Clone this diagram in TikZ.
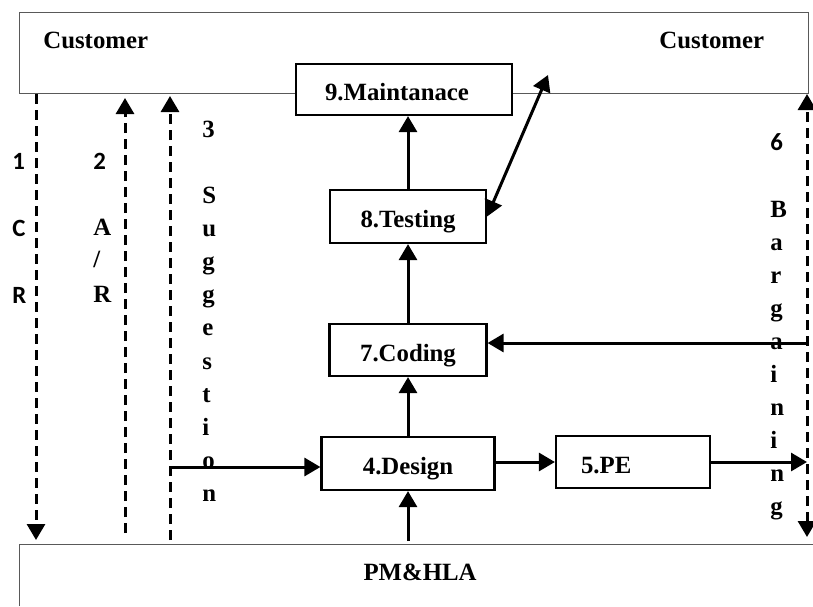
\documentclass[tikz,border=0pt]{standalone}
\usepackage{fontspec}
\setmainfont{Liberation Serif}
\newfontfamily\calfont{Carlito}
\usetikzlibrary{arrows.meta}

\begin{document}
\begin{tikzpicture}[x=0.5pt,y=-0.5pt,
	>={Triangle[length=8pt,width=9pt]},
	frame/.style={draw=black!65,line width=0.5pt},
	box/.style={draw,line width=1.1pt,fill=white,font=\fontsize{12.4}{14}\selectfont\bfseries,text height=11pt,text depth=0pt,inner sep=0pt},
	flow/.style={line width=1.5pt,->},
	dashflow/.style={line width=1.5pt,dash pattern=on 5pt off 3pt,->},
	lbl/.style={font=\fontsize{12.4}{14}\selectfont\bfseries,anchor=base west,inner sep=0pt},
	slbl/.style={lbl,font=\fontsize{12.4}{14}\selectfont\calfont\bfseries}]
\useasboundingbox (0,0) rectangle (813,606);

% customer and PM sides
\node[frame,inner sep=0pt,minimum width=394.5pt,minimum height=40.5pt,anchor=north west] (cust) at (19,12) {};
\node[lbl] (custl) at (43,48) {Customer};
\node[lbl] (custr) at (659,48) {Customer};
\coordinate (pm) at (19,544);
\draw[frame] (19,606) -- (pm) -- (813,544);
\node[lbl,anchor=base] (pmhla) at (420,580) {PM\&HLA};

% phases
\node[box,minimum height=25.5pt,text width=79pt,inner xsep=14.5pt,align=left] (maint) at (404,89.5) {9.Maintanace};
\node[box,minimum width=78pt,minimum height=26.5pt] (test) at (408,216.5) {8.Testing};
\node[box,minimum width=78.5pt,minimum height=26pt] (code) at (408,350) {7.Coding};
\node[box,minimum width=86.5pt,minimum height=26.5pt] (design) at (408,463.5) {4.Design};
\node[box,minimum height=26pt,text width=52pt,inner xsep=12.5pt,align=left] (pe) at (633,462) {5.PE};

\coordinate (cr) at (36,540);
\coordinate (ar) at (125,533);
\coordinate (sg) at (170,540);
\coordinate (bg) at (807,537);
\coordinate (pmd) at (408,541);
\coordinate (custpt) at (548,75);
\coordinate (sgin) at ([yshift=-1.75pt]design.west);
\coordinate (bgin) at ([yshift=3.5pt]code.east);

% dashed channels
\draw[dashflow] (cust.south -| cr) -- (cr);
\draw[dashflow,shorten >=2pt] (ar) -- (ar |- cust.south);
\draw[dashflow,shorten >=1pt] (sg) -- (sg |- cust.south);
\draw[dashflow,<->] (bg) -- (bg |- cust.south);

\draw[flow] (pmd) -- (design.south);
\draw[flow] (design.north) -- (code.south);
\draw[flow] (code.north) -- (test.south);
\draw[flow] (test.north) -- (test.north |- maint.south);
\draw[flow,<->] (test.east) -- (custpt);
\draw[flow] (sgin -| sg) -- (sgin);
\draw[flow] (pe.west -| design.east) -- (pe.west);
\draw[flow] (pe.east) -- (pe.east -| bg);
\draw[flow] (bgin -| bg) -- (bgin);

% vertical labels
\node[slbl] (crn) at (12,169) {1};
\node[slbl] (crc) at (12,236) {C};
\node[slbl] (crr) at (12,303) {R};
\node[slbl] (arn) at (93,169) {2};
\node[lbl] (ara) at (93,235) {A};
\node[lbl] (ars) at (93,267) {/};
\node[lbl] (arr) at (93,302) {R};
\node[lbl] (sgn) at (202,137) {3};
\foreach \ch [count=\i from 0] in {S,u,g,g,e,s,t,i,o,n}
	\node[lbl] (sg\i) at (202,203+33.2*\i) {\ch};
\node[slbl] (bgn) at (770,150) {6};
\foreach \ch [count=\i from 0] in {B,a,r,g,a,i,n,i,n,g}
	\node[lbl] (bg\i) at (770,217+33.1*\i) {\ch};
\end{tikzpicture}
\end{document}
